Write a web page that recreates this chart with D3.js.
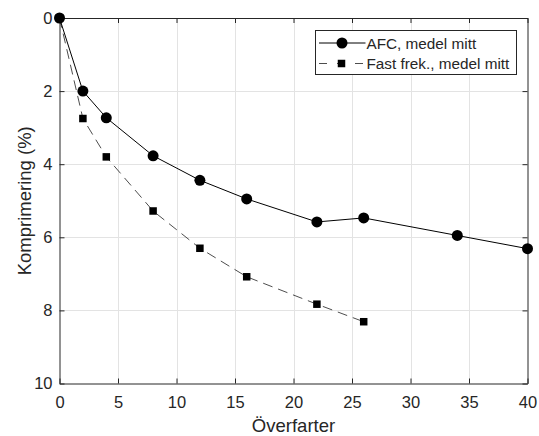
<!DOCTYPE html>
<html>
<head>
<meta charset="utf-8">
<script src="https://cdn.jsdelivr.net/npm/d3@7"></script>
<style>
  html, body { margin: 0; padding: 0; background: #fff; }
  svg { display: block; font-family: "Liberation Sans", Arial, Helvetica, sans-serif; }
</style>
</head>
<body>
<svg id="chart" width="539" height="436"></svg>
<script>
// Compression versus number of passes
const afcPasses = [0, 2, 4, 8, 12, 16, 22, 26, 34, 40];
const afcCompression = [0, 2.0, 2.73, 3.77, 4.44, 4.95, 5.58, 5.47, 5.95, 6.31];
const fastPasses = [0, 2, 4, 8, 12, 16, 22, 26];
const fastCompression = [0, 2.75, 3.80, 5.28, 6.30, 7.08, 7.83, 8.31];
const xTicks = [0, 5, 10, 15, 20, 25, 30, 35, 40];
const yTicks = [0, 2, 4, 6, 8, 10];
const seriesNames = ["AFC, medel mitt", "Fast frek., medel mitt"];

(function () {
  const svg = d3.select("#chart");
  const pLeft = 59.5, pRight = 527.5, pTop = 18, pBottom = 383.5;

  const x = d3.scaleLinear().domain([0, 40]).range([pLeft, pRight]);
  const y = d3.scaleLinear().domain([0, 10]).range([pTop, pBottom]);

  // grid
  const grid = svg.append("g").attr("stroke", "#e3e3e3").attr("stroke-width", 1);
  grid.selectAll("line.v").data(xTicks.slice(1, -1)).join("line")
    .attr("x1", d => Math.round(x(d)) + 0.5).attr("x2", d => Math.round(x(d)) + 0.5)
    .attr("y1", pTop).attr("y2", pBottom);
  grid.selectAll("line.h").data(yTicks.slice(1, -1)).join("line")
    .attr("y1", d => Math.round(y(d)) + 0.5).attr("y2", d => Math.round(y(d)) + 0.5)
    .attr("x1", pLeft).attr("x2", pRight);

  // axes (ticks inward, boxed)
  const tickLen = 5;
  const axisColor = "#262626";
  const fmt = d3.format("d");

  const xAxisB = d3.axisBottom(x).tickValues(xTicks).tickSizeInner(-tickLen).tickSizeOuter(0).tickPadding(13).tickFormat(fmt);
  const xAxisT = d3.axisTop(x).tickValues(xTicks).tickSizeInner(-tickLen).tickSizeOuter(0).tickFormat("");
  const yAxisL = d3.axisLeft(y).tickValues(yTicks).tickSizeInner(-tickLen).tickSizeOuter(0).tickPadding(7).tickFormat(fmt);
  const yAxisR = d3.axisRight(y).tickValues(yTicks).tickSizeInner(-tickLen).tickSizeOuter(0).tickFormat("");

  function styleAxis(g) {
    g.attr("font-size", null).attr("font-family", null);
    g.select(".domain").attr("stroke", axisColor);
    g.selectAll(".tick line").attr("stroke", axisColor);
    g.selectAll(".tick text").attr("fill", axisColor).style("font-size", "16.5px");
  }
  svg.append("g").attr("transform", `translate(0,${pBottom})`).call(xAxisB).call(styleAxis);
  svg.append("g").attr("transform", `translate(0,${pTop})`).call(xAxisT).call(styleAxis);
  svg.append("g").attr("transform", `translate(${pLeft},0)`).call(yAxisL).call(styleAxis);
  svg.append("g").attr("transform", `translate(${pRight},0)`).call(yAxisR).call(styleAxis);

  // axis labels
  svg.append("text").attr("x", (pLeft + pRight) / 2).attr("y", 432)
    .attr("text-anchor", "middle").attr("fill", axisColor).style("font-size", "18.5px")
    .text("Överfarter");
  svg.append("text").attr("transform", `translate(30.5,${(pTop + pBottom) / 2}) rotate(-90)`)
    .attr("text-anchor", "middle").attr("fill", axisColor).style("font-size", "18.5px")
    .text("Komprimering (%)");

  // series
  const afc = afcPasses.map((p, i) => [p, afcCompression[i]]);
  const fast = fastPasses.map((p, i) => [p, fastCompression[i]]);
  const line = d3.line().x(d => x(d[0])).y(d => y(d[1]));

  svg.append("path").datum(fast).attr("d", line)
    .attr("fill", "none").attr("stroke", "#000").attr("stroke-width", 0.7)
    .attr("stroke-dasharray", "10,6");
  svg.append("path").datum(afc).attr("d", line)
    .attr("fill", "none").attr("stroke", "#000").attr("stroke-width", 1);

  const sq = 7.5;
  svg.selectAll("rect.fast").data(fast).join("rect")
    .attr("x", d => x(d[0]) - sq / 2).attr("y", d => y(d[1]) - sq / 2)
    .attr("width", sq).attr("height", sq).attr("fill", "#000");
  svg.selectAll("circle.afc").data(afc).join("circle")
    .attr("cx", d => x(d[0])).attr("cy", d => y(d[1])).attr("r", 5.5).attr("fill", "#000");

  // legend
  const lg = svg.append("g");
  lg.append("rect").attr("x", 315.5).attr("y", 30.5).attr("width", 201).attr("height", 44)
    .attr("fill", "#fff").attr("stroke", axisColor).attr("stroke-width", 1);
  const rows = [43, 63.5];
  lg.append("line").attr("x1", 319).attr("x2", 365.5).attr("y1", rows[0]).attr("y2", rows[0])
    .attr("stroke", "#000").attr("stroke-width", 1);
  lg.append("circle").attr("cx", 342).attr("cy", rows[0]).attr("r", 5.5).attr("fill", "#000");
  lg.append("line").attr("x1", 319).attr("x2", 365.5).attr("y1", rows[1]).attr("y2", rows[1])
    .attr("stroke", "#000").attr("stroke-width", 0.7).attr("stroke-dasharray", "8,10");
  lg.append("rect").attr("x", 341.5 - sq / 2).attr("y", rows[1] - sq / 2).attr("width", sq).attr("height", sq).attr("fill", "#000");
  lg.selectAll("text").data(seriesNames).join("text")
    .attr("x", 366.5).attr("y", (d, i) => rows[i] + 5.5)
    .attr("fill", axisColor).style("font-size", "15.3px").text(d => d);
})();
</script>
</body>
</html>
